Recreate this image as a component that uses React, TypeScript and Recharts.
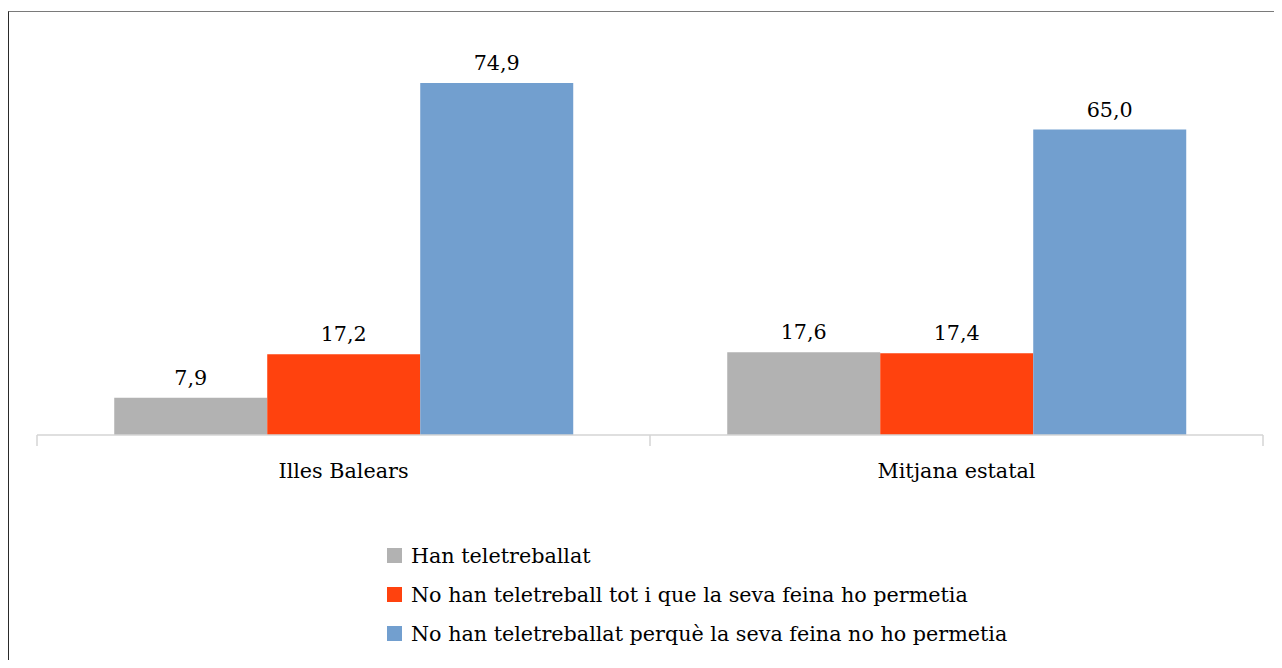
import { Bar, BarChart, LabelList, Legend, XAxis, YAxis } from "recharts";

const categories = ["Illes Balears", "Mitjana estatal"];
const hanTeletreballat = [7.9, 17.6];
const noTotIQue = [17.2, 17.4];
const noPerque = [74.9, 65.0];

const seriesNames = [
  "Han teletreballat",
  "No han teletreball tot i que la seva feina ho permetia",
  "No han teletreballat perquè la seva feina no ho permetia",
];
const seriesColors = ["#b2b2b2", "#ff420e", "#729fcf"];

// Liberation Serif is not available here, DejaVu Serif is the closest serif face
const FONT = '"DejaVu Serif", serif';
const FONT_SIZE = 20.7;

const data = categories.map((name, i) => ({
  name,
  s0: hanTeletreballat[i],
  s1: noTotIQue[i],
  s2: noPerque[i],
}));

const fmt = (v: number) => v.toFixed(1).replace(".", ",");

function CategoryTick(props: any) {
  const { x, y, payload, index, visibleTicksCount } = props;
  const half = payload?.offset ?? 0;
  const last = index === visibleTicksCount - 1;
  return (
    <g>
      <line x1={x - half} x2={x - half} y1={y} y2={y + 11} stroke="#d4d4d4" strokeWidth={1.5} />
      {last && (
        <line x1={x + half} x2={x + half} y1={y} y2={y + 11} stroke="#d4d4d4" strokeWidth={1.5} />
      )}
      <text x={x} y={y + 43} textAnchor="middle" style={{ fontFamily: FONT }} fontSize={FONT_SIZE} fill="#000">
        {payload.value}
      </text>
    </g>
  );
}

function ValueLabel(props: any) {
  const { x, y, width, value } = props;
  return (
    <text
      x={Number(x) + Number(width) / 2}
      y={Number(y) - 13}
      textAnchor="middle"
      style={{ fontFamily: FONT }}
      fontSize={FONT_SIZE}
      fill="#000"
    >
      {fmt(Number(value))}
    </text>
  );
}

function LegendRows(props: any) {
  const items = props.payload ?? [];
  return (
    <div style={{ fontFamily: FONT, fontSize: FONT_SIZE, color: "#000" }}>
      {items.map((it: any) => (
        <div key={it.value} style={{ display: "flex", alignItems: "center", height: 39, whiteSpace: "nowrap" }}>
          <span style={{ display: "inline-block", width: 15, height: 15, background: it.color, marginRight: 9 }} />
          <span>{it.value}</span>
        </div>
      ))}
    </div>
  );
}

export default function App() {
  return (
    <div
      style={{
        marginTop: 3,
        width: 1266,
        height: 649,
        boxSizing: "border-box",
        borderTop: "1px solid #7a7a7a",
        borderLeft: "1px solid #2a2a2a",
        background: "#fff",
      }}
    >
      <BarChart
        width={1265}
        height={648}
        data={data}
        margin={{ top: 47, right: 11, left: 28, bottom: 165 }}
        barCategoryGap="12.6%"
        barGap={0}
      >
        <XAxis
          dataKey="name"
          height={60}
          tickSize={0}
          tickMargin={0}
          tickLine={false}
          axisLine={{ stroke: "#d4d4d4", strokeWidth: 1.5 }}
          tick={<CategoryTick />}
          interval={0}
        />
        <YAxis hide domain={[0, 80]} />
        <Legend
          layout="horizontal"
          verticalAlign="middle"
          align="center"
          content={<LegendRows />}
          wrapperStyle={{ left: 378, top: 524, width: 800, height: 117 }}
        />
        {["s0", "s1", "s2"].map((key, i) => (
          <Bar key={key} dataKey={key} name={seriesNames[i]} fill={seriesColors[i]} isAnimationActive={false}>
            <LabelList dataKey={key} content={<ValueLabel />} />
          </Bar>
        ))}
      </BarChart>
    </div>
  );
}
